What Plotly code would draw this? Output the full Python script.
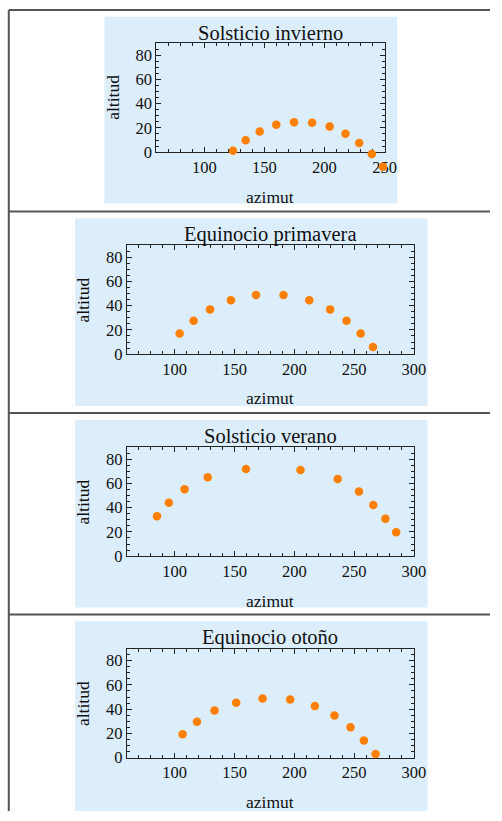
import plotly.graph_objects as go

titles = ["Solsticio invierno", "Equinocio primavera", "Solsticio verano", "Equinocio otoño"]

invierno_az = [123.9, 134.4, 146.1, 159.9, 174.7, 189.7, 204.3, 217.5, 228.9, 239.4, 248.6]
invierno_alt = [1.1, 9.8, 17.1, 22.6, 24.7, 24.2, 21.2, 15.2, 7.6, -1.6, -12.0]

primavera_az = [104.1, 115.8, 129.5, 147.0, 168.0, 191.0, 212.5, 230.0, 243.7, 255.5, 265.8]
primavera_alt = [17.0, 27.5, 36.9, 44.4, 48.7, 48.7, 44.4, 36.9, 27.5, 17.0, 5.9]

verano_az = [85.2, 95.1, 108.2, 127.6, 159.6, 205.2, 236.3, 254.1, 266.1, 276.2, 285.2]
verano_alt = [32.9, 44.0, 55.1, 65.1, 71.9, 71.0, 63.7, 53.2, 42.2, 30.8, 19.7]

otono_az = [106.6, 118.6, 133.3, 151.4, 173.5, 196.5, 217.2, 233.6, 247.0, 258.2, 268.0]
otono_alt = [19.3, 29.6, 38.8, 45.3, 48.8, 48.0, 42.6, 34.7, 25.0, 14.2, 3.0]

x_ranges = [[60, 250], [60, 300], [60, 300], [60, 300]]
y_range = [0, 90]
x_label = "azimut"
y_label = "altitud"

series = [(invierno_az, invierno_alt), (primavera_az, primavera_alt),
          (verano_az, verano_alt), (otono_az, otono_alt)]

W, H = 502, 821
FONT = "Liberation Serif"
ORANGE = "rgb(255,128,0)"
PANEL = "#dcedfc"
GRID = "#555555"
EXT = 25  # extra data units beyond the frame where points may spill (unclipped)

# layout geometry (pixels)
frames = [  # left, right, top, bottom
    (160, 394, 43.5, 154),
    (130, 424, 248, 358.5),
    (130, 424, 452.5, 563),
    (130, 424, 656.5, 767),
]
panels = [  # x0, y0, x1, y1
    (107, 17, 407, 206),
    (77, 221, 438, 411),
    (77, 425, 438, 615),
    (77, 629, 438, 821),
]
title_y = [33, 237, 441.5, 645.5]
xlab_y = [199, 403, 608, 812]
ylab_x = [115, 85, 85, 85]


def px(x):
    return x / W


def py(y):
    return 1 - y / H


fig = go.Figure()
layout = dict(width=W, height=H, margin=dict(l=0, r=0, t=0, b=0),
              paper_bgcolor="white", plot_bgcolor="rgba(0,0,0,0)",
              showlegend=False, font=dict(family=FONT, color="#111", size=16))
shapes = []
annotations = []

for i, ((xs, ys), t) in enumerate(zip(series, titles)):
    n = "" if i == 0 else str(i + 1)
    m = str(i + 5)
    l, r, tp, b = frames[i]
    xr = x_ranges[i]
    kx = (r - l) / (xr[1] - xr[0])
    ky = (b - tp) / (y_range[1] - y_range[0])

    # frame axes (visible, ticks) — empty trace so the subplot is drawn
    fig.add_trace(go.Scatter(x=[], y=[], mode="markers", xaxis="x" + n, yaxis="y" + n,
                             hoverinfo="skip"))
    # data axes: same scale, domain extended so points beyond the frame remain visible
    fig.add_trace(go.Scatter(x=xs, y=ys, mode="markers", xaxis="x" + m, yaxis="y" + m,
                             marker=dict(color=ORANGE, size=8.5), cliponaxis=False,
                             hoverinfo="skip"))

    axcommon = dict(showgrid=False, zeroline=False, showline=True, linecolor="#222",
                    linewidth=1, mirror="allticks", ticks="inside", ticklen=5,
                    tickcolor="#222", tickwidth=1,
                    tickfont=dict(family=FONT, size=16.5, color="#111"))
    layout["xaxis" + n] = dict(axcommon, domain=[px(l), px(r)], anchor="y" + n,
                               range=xr, tick0=0, dtick=50,
                               minor=dict(dtick=10, ticklen=3, ticks="inside",
                                          tickcolor="#222", showgrid=False))
    layout["yaxis" + n] = dict(axcommon, domain=[py(b), py(tp)], anchor="x" + n,
                               range=y_range, tick0=0, dtick=20,
                               minor=dict(dtick=5, ticklen=3, ticks="inside",
                                          tickcolor="#222", showgrid=False))
    layout["xaxis" + m] = dict(visible=False, showgrid=False, zeroline=False,
                               domain=[px(l - EXT * kx), px(r + EXT * kx)], anchor="y" + m,
                               range=[xr[0] - EXT, xr[1] + EXT])
    layout["yaxis" + m] = dict(visible=False, showgrid=False, zeroline=False,
                               domain=[py(b + EXT * ky), py(tp - EXT * ky)], anchor="x" + m,
                               range=[y_range[0] - EXT, y_range[1] + EXT])

    x0, y0, x1, y1 = panels[i]
    shapes.append(dict(type="rect", xref="paper", yref="paper", x0=px(x0), x1=px(x1),
                       y0=py(y1), y1=py(y0), fillcolor=PANEL, line=dict(width=0),
                       layer="below"))
    cx = (l + r) / 2
    annotations.append(dict(text=t, xref="paper", yref="paper", x=px(cx), y=py(title_y[i]),
                            xanchor="center", yanchor="middle", showarrow=False,
                            font=dict(family=FONT, size=20.5, color="#111")))
    annotations.append(dict(text=x_label, xref="paper", yref="paper", x=px(cx), y=py(xlab_y[i]),
                            xanchor="center", yanchor="middle", showarrow=False,
                            font=dict(family=FONT, size=17.5, color="#111")))
    annotations.append(dict(text=y_label, xref="paper", yref="paper", x=px(ylab_x[i]),
                            y=py((tp + b) / 2), xanchor="center", yanchor="middle",
                            textangle=-90, showarrow=False,
                            font=dict(family=FONT, size=17.5, color="#111")))

# table lines
shapes.append(dict(type="line", xref="paper", yref="paper", x0=px(9), x1=px(9),
                   y0=py(10), y1=0, line=dict(color=GRID, width=2)))
for yy in [10, 214, 418, 622]:
    shapes.append(dict(type="line", xref="paper", yref="paper", x0=px(9), x1=1,
                       y0=py(yy), y1=py(yy), line=dict(color=GRID, width=2)))

layout["shapes"] = shapes
layout["annotations"] = annotations
fig.update_layout(**layout)
fig.write_html("out.html")
